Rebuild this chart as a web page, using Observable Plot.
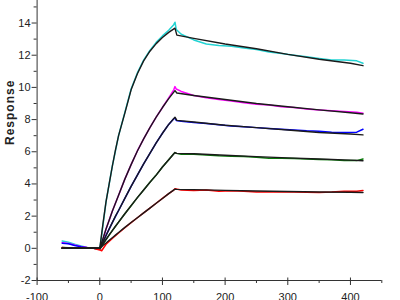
<!DOCTYPE html>
<html><head><meta charset="utf-8">
<script src="https://cdn.jsdelivr.net/npm/d3@7"></script>
<script src="https://cdn.jsdelivr.net/npm/@observablehq/plot@0.6"></script>
<style>html,body{margin:0;padding:0;background:#fff;overflow:hidden}#chart svg{display:block}</style>
</head><body><div id="chart"></div>
<script>
const seriesNames = ["s1", "s2", "s3", "s4", "s5"];
const seriesColors = ["#22d3d3", "#ff00ff", "#0000ff", "#0a7a0a", "#ff0000"];

// measured curves (coloured)
const dataT = [-60,-50,-40,-30,-20,-10,0,3,10,20,30,40,50,60,70,80,90,100,110,118,120,122,130,150,170,190,210,230,250,270,290,310,330,350,370,390,410,420];
const dataS1 = [0.45,0.38,0.25,0.15,0.05,0.0,-0.05, 0.8,2.9,5.1,7.0,8.45,9.9,10.9,11.7,12.3,12.8,13.2,13.55,13.9,14.05,13.6, 13.3,12.95,12.7,12.6,12.55,12.45,12.35,12.2,12.1,12.0,11.9,11.8,11.7,11.7,11.65,11.5];
const dataS2 = [0.35,0.3,0.2,0.12,0.05,0.02,-0.05, 0.25,1.2,2.3,3.3,4.3,5.2,6.05,6.8,7.5,8.15,8.75,9.35,9.85,10.05,9.9, 9.75,9.5,9.35,9.25,9.15,9.05,8.95,8.9,8.8,8.75,8.65,8.6,8.55,8.5,8.45,8.4];
const dataS3 = [0.32,0.28,0.18,0.1,0.04,0.0,-0.05, 0.15,0.8,1.6,2.35,3.1,3.85,4.55,5.25,5.9,6.55,7.15,7.7,8.05,8.1,7.95, 7.9,7.82,7.75,7.68,7.6,7.55,7.5,7.45,7.4,7.35,7.3,7.27,7.22,7.2,7.22,7.4];
const dataS4 = [0.05,0.03,0.02,0.0,0.0,0.0,-0.05, 0.1,0.55,1.1,1.63,2.15,2.65,3.15,3.62,4.1,4.55,5.05,5.5,5.88,5.95,5.9, 5.85,5.85,5.8,5.75,5.72,5.7,5.66,5.6,5.6,5.58,5.55,5.52,5.5,5.46,5.45,5.55];
const dataS5 = [0.05,0.02,0.0,0.0,0.0,0.0,-0.1, -0.15,0.25,0.62,0.95,1.28,1.6,1.9,2.2,2.5,2.8,3.1,3.4,3.62,3.7,3.68, 3.62,3.6,3.62,3.55,3.58,3.55,3.5,3.52,3.5,3.5,3.48,3.47,3.5,3.55,3.55,3.6];

// fitted curves (black)
const fitT = [-60,0,5,10,15,20,25,30,40,50,60,70,80,90,100,110,120,123,150,200,250,300,350,400,420];
const fitS1 = [0,0,1.5,2.9,4.0,5.1,6.1,7.0,8.4,9.85,10.85,11.65,12.25,12.72,13.1,13.42,13.68,13.25,13.05,12.7,12.4,12.05,11.75,11.5,11.35];
const fitS2 = [0,0,0.6,1.2,1.75,2.3,2.8,3.3,4.3,5.2,6.05,6.8,7.5,8.15,8.75,9.3,9.8,9.65,9.5,9.25,9.0,8.8,8.6,8.42,8.35];
const fitS3 = [0,0,0.4,0.8,1.2,1.6,2.0,2.35,3.1,3.85,4.55,5.25,5.9,6.55,7.15,7.7,8.15,7.95,7.85,7.65,7.5,7.35,7.2,7.1,7.05];
const fitS4 = [0,0,0.28,0.55,0.83,1.1,1.37,1.63,2.15,2.65,3.15,3.62,4.1,4.55,5.05,5.5,5.95,5.9,5.88,5.78,5.7,5.62,5.55,5.48,5.44];
const fitS5 = [0,0,0.17,0.33,0.5,0.66,0.82,0.98,1.3,1.6,1.9,2.2,2.5,2.8,3.1,3.4,3.68,3.66,3.65,3.6,3.56,3.53,3.5,3.48,3.47];

const xMajorTicks = [-100, 0, 100, 200, 300, 400];
const xMinorTicks = [-50, 50, 150, 250, 350, 450];
const yMajorTicks = [-2, 0, 2, 4, 6, 8, 10, 12, 14];
const yMinorTicks = [-1, 1, 3, 5, 7, 9, 11, 13, 15];
const yLabel = "Response";

const dataValues = [dataS1, dataS2, dataS3, dataS4, dataS5];
const fitValues = [fitS1, fitS2, fitS3, fitS4, fitS5];
const dataRows = seriesNames.flatMap((s, i) => dataT.map((t, j) => ({series: s, t, v: dataValues[i][j]})));
const fitRows = seriesNames.flatMap((s, i) => fitT.map((t, j) => ({series: s, t, v: fitValues[i][j]})));

const axisColor = "#333";
const plot = Plot.plot({
  width: 400, height: 300,
  marginLeft: 36.6, marginRight: 18.7, marginTop: 0, marginBottom: 20,
  x: {domain: [-100, 450]},
  y: {domain: [-2, 15.4]},
  color: {domain: seriesNames, range: seriesColors},
  style: {fontFamily: "'Liberation Sans', Arial, sans-serif", fontSize: "11px", color: "#222", background: "#fff"},
  marks: [
    Plot.ruleY([-2], {stroke: axisColor}),
    Plot.ruleX([-100], {stroke: axisColor}),
    Plot.axisX(xMajorTicks, {tickSize: 7.5, dy: -2.5, fill: "none", stroke: axisColor, label: null}),
    Plot.axisX(xMinorTicks, {tickSize: 3, fill: "none", stroke: axisColor, label: null}),
    Plot.axisX(xMajorTicks, {tickSize: 0, tickPadding: 12.5, tickFormat: d => String(d), fill: "#222", label: null}),
    Plot.axisY(yMajorTicks, {tickSize: 5, fill: "none", stroke: axisColor, label: null}),
    Plot.axisY(yMinorTicks, {tickSize: 3, fill: "none", stroke: axisColor, label: null}),
    Plot.axisY(yMajorTicks, {tickSize: 0, tickPadding: 6.5, tickFormat: d => String(d), fill: "#222", label: null}),
    Plot.text([yLabel], {text: d => d, frameAnchor: "left", dx: -27, dy: 4.5, rotate: -90, fontWeight: "bold", fontSize: 12, fill: "#222"}),
    Plot.line(dataRows, {x: "t", y: "v", z: "series", stroke: "series", strokeWidth: 1.5}),
    Plot.line(fitRows, {x: "t", y: "v", z: "series", stroke: "#1a1a1a", strokeWidth: 1.4})
  ]
});
document.getElementById("chart").append(plot);
d3.select(plot).selectAll("text").filter(function() { return this.textContent === yLabel; }).attr("letter-spacing", "1px");
</script>
</body></html>
